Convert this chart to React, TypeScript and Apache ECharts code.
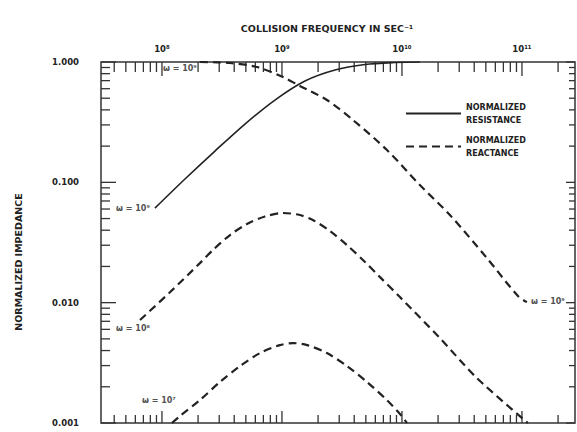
import React, { useEffect, useRef } from 'react';
import * as echarts from 'echarts';

// Axis ticks / labels
const xDecadeValues = [1e8, 1e9, 1e10, 1e11];
const xDecadeLabels = ['10⁸', '10⁹', '10¹⁰', '10¹¹'];
const xTickDecades = [1e7, 1e8, 1e9, 1e10, 1e11];
const yDecadeValues = [0.001, 0.01, 0.1, 1];
const yDecadeLabels = ['0.001', '0.010', '0.100', '1.000'];
const yTickDecades = [0.001, 0.01, 0.1];
const tickMultipliers = [1, 2, 3, 4, 5, 6, 7, 8, 9];

const X_MIN = Math.pow(10, 7.492);
const X_MAX = Math.pow(10, 11.442);
const Y_MIN = 0.001;
const Y_MAX = 1;

// Normalized resistance (solid)
const resistanceNu = [8.74e7, 1.555e8, 2.765e8, 4.917e8, 8.74e8, 1.555e9, 2.765e9, 4.917e9, 8.74e9, 1.41e10];
const resistance = [0.0611, 0.1066, 0.182, 0.3052, 0.483, 0.695, 0.858, 0.953, 0.99, 1.0];

// Normalized reactance, omega = 1e9 (top dashed)
const reactance9Nu = [2.07e8, 3.69e8, 6.19e8, 1.02e9, 1.41e9, 2.37e9, 3.9e9, 7.5e9, 1.41e10, 2.51e10, 5.1e10, 9.26e10, 1.1e11];
const reactance9 = [1.0, 0.981, 0.909, 0.75, 0.632, 0.483, 0.33, 0.1856, 0.095, 0.0535, 0.0235, 0.01135, 0.0101];

// Normalized reactance, omega = 1e8 (middle dashed)
const reactance8Nu = [6.56e7, 1.17e8, 2.07e8, 2.66e8, 3.69e8, 5.11e8, 7.21e8, 1.02e9, 1.41e9, 1.81e9, 2.51e9, 3.48e9, 4.92e9, 6.56e9, 9.62e9, 2.07e10, 4.22e10, 1.12e11];
const reactance8 = [0.00717, 0.01225, 0.0213, 0.0274, 0.0365, 0.045, 0.052, 0.0556, 0.0535, 0.0486, 0.0394, 0.0301, 0.0218, 0.0163, 0.01113, 0.00508, 0.00236, 0.001];

// Normalized reactance, omega = 1e7 (bottom dashed)
const reactance7Nu = [1.21e8, 1.41e8, 2.07e8, 3.04e8, 4.47e8, 6.56e8, 9.62e8, 1.24e9, 1.62e9, 2.37e9, 3.48e9, 5.11e9, 7.5e9, 9.62e9, 1.1e10];
const reactance7 = [0.001, 0.00114, 0.00155, 0.00219, 0.00297, 0.00381, 0.00444, 0.00461, 0.00444, 0.00381, 0.00297, 0.00219, 0.00155, 0.00119, 0.001];

const annotationTexts = ['ω = 10⁹', 'ω = 10⁹', 'ω = 10⁹', 'ω = 10⁸', 'ω = 10⁷'];

const FONT = 'DejaVu Sans';
const INK = '#222';
const RES_NAME = 'NORMALIZED\nRESISTANCE';
const REA_NAME = 'NORMALIZED\nREACTANCE';

const zip = (xs: number[], ys: number[]) => xs.map((x, i) => [x, ys[i]]);

function findLabel(v: number, values: number[], labels: string[]) {
  for (let i = 0; i < values.length; i++) {
    if (Math.abs(Math.log10(v) - Math.log10(values[i])) < 1e-6) return labels[i];
  }
  return '';
}

export default function App() {
  const ref = useRef<HTMLDivElement>(null);

  useEffect(() => {
    if (!ref.current) return;
    const chart = echarts.init(ref.current, undefined, { renderer: 'svg' });

    // tick marks: [x, y, side, isMajor]
    const ticks: number[][] = [];
    xTickDecades.forEach((d) => {
      tickMultipliers.forEach((m) => {
        const v = d * m;
        if (v >= X_MIN && v <= X_MAX) {
          ticks.push([v, Y_MAX, 0, m === 1 ? 1 : 0]);
          ticks.push([v, Y_MIN, 1, m === 1 ? 1 : 0]);
        }
      });
    });
    yTickDecades.forEach((d) => {
      tickMultipliers.forEach((m) => {
        const v = d * m;
        if (v >= Y_MIN && v <= Y_MAX) {
          ticks.push([X_MIN, v, 2, m === 1 ? 1 : 0]);
          ticks.push([X_MAX, v, 3, m === 1 ? 1 : 0]);
        }
      });
    });
    ticks.push([X_MIN, 1, 2, 1]);
    ticks.push([X_MAX, 1, 3, 1]);

    const labelStyle = { fontFamily: FONT, fontWeight: 'bold', fontSize: 8, color: INK };

    const annotations = [
      { value: [resistanceNu[0], resistance[0]], name: annotationTexts[0], label: { position: 'left', distance: 5 } },
      { value: [reactance9Nu[0], reactance9[0]], name: annotationTexts[1], label: { position: 'left', distance: 3, offset: [0, 6] } },
      { value: [reactance9Nu[reactance9Nu.length - 1], reactance9[reactance9.length - 1]], name: annotationTexts[2], label: { position: 'right', distance: 4, offset: [0, -1] } },
      { value: [reactance8Nu[0], reactance8[0]], name: annotationTexts[3], label: { position: 'left', distance: 0, offset: [10, 8] } },
      { value: [reactance7Nu[0], reactance7[0]], name: annotationTexts[4], label: { position: 'left', distance: 0, offset: [4, -23] } },
    ];

    const dashed = { color: INK, width: 2.2, type: [8, 5] as any };

    chart.setOption({
      animation: false,
      backgroundColor: '#fff',
      grid: { show: true, left: 101, top: 62, width: 474, height: 361, borderColor: '#333', borderWidth: 1.5, backgroundColor: 'transparent' },
      graphic: [
        {
          type: 'text', x: 327, y: 28,
          style: { text: 'COLLISION FREQUENCY IN SEC⁻¹', fill: INK, font: `bold 9.5px "${FONT}"`, textAlign: 'center', textVerticalAlign: 'middle' },
        },
        {
          type: 'text', x: 18, y: 262, rotation: Math.PI / 2,
          style: { text: 'NORMALIZED IMPEDANCE', fill: INK, font: `bold 9.5px "${FONT}"`, textAlign: 'center', textVerticalAlign: 'middle' },
        },
      ],
      legend: {
        left: 405, top: 94, padding: 0, orient: 'vertical', itemWidth: 55, itemHeight: 10, itemGap: -6,
        data: [RES_NAME, REA_NAME],
        itemStyle: { opacity: 0 },
        textStyle: { ...labelStyle, lineHeight: 13, padding: [13, 0, 0, 0] },
        selectedMode: false,
      },
      xAxis: {
        type: 'log', logBase: 10, position: 'top', min: X_MIN, max: X_MAX,
        axisLine: { show: false }, axisTick: { show: false }, splitLine: { show: false },
        axisLabel: { ...labelStyle, fontSize: 8.5, margin: 9, showMinLabel: false, showMaxLabel: false, formatter: (v: number) => findLabel(v, xDecadeValues, xDecadeLabels) },
      },
      yAxis: {
        type: 'log', logBase: 10, min: Y_MIN, max: Y_MAX,
        axisLine: { show: false }, axisTick: { show: false }, splitLine: { show: false },
        axisLabel: { ...labelStyle, fontSize: 8.5, margin: 22, formatter: (v: number) => findLabel(v, yDecadeValues, yDecadeLabels) },
      },
      series: [
        {
          type: 'custom', name: 'ticks', silent: true, clip: false, legendHoverLink: false,
          data: ticks, encode: { x: 0, y: 1 },
          renderItem: (params: any, api: any) => {
            const p = api.coord([api.value(0), api.value(1)]);
            const side = api.value(2);
            const major = api.value(3) === 1;
            let x2 = p[0], y2 = p[1];
            if (side === 0) y2 = p[1] + (major ? 14 : 10);
            else if (side === 1) y2 = p[1] - (major ? 12 : 8);
            else if (side === 2) x2 = p[0] + (major ? 15 : 9);
            else x2 = p[0] - (major ? 9 : 6);
            return { type: 'line', shape: { x1: p[0], y1: p[1], x2, y2 }, style: { stroke: '#333', lineWidth: 1.3 } };
          },
        },
        {
          type: 'line', name: RES_NAME, data: zip(resistanceNu, resistance), showSymbol: false, symbol: 'none', smooth: 0.3,
          lineStyle: { color: INK, width: 1.6 }, itemStyle: { color: INK },
        },
        {
          type: 'line', name: REA_NAME, data: zip(reactance9Nu, reactance9), showSymbol: false, symbol: 'none', smooth: 0.3,
          lineStyle: dashed, itemStyle: { color: INK },
        },
        {
          type: 'line', name: REA_NAME, data: zip(reactance8Nu, reactance8), showSymbol: false, symbol: 'none', smooth: 0.3,
          lineStyle: dashed, itemStyle: { color: INK },
        },
        {
          type: 'line', name: REA_NAME, data: zip(reactance7Nu, reactance7), showSymbol: false, symbol: 'none', smooth: 0.3,
          lineStyle: dashed, itemStyle: { color: INK },
        },
        {
          type: 'scatter', name: 'annotations', symbolSize: 0.01, silent: true,
          itemStyle: { color: 'rgba(0,0,0,0)' },
          label: { show: true, formatter: (p: any) => p.name, ...labelStyle },
          data: annotations,
        },
      ],
    });

    return () => chart.dispose();
  }, []);

  return <div ref={ref} style={{ position: 'fixed', left: 0, top: 0, width: 577, height: 432, background: '#fff' }} />;
}
